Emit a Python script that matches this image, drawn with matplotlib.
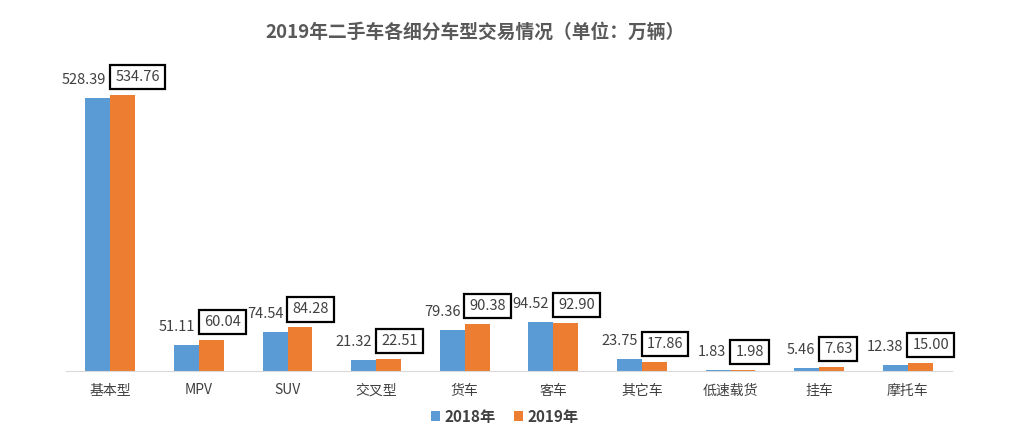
import numpy as np
import matplotlib.pyplot as plt

plt.rcParams['font.family'] = ['Noto Sans CJK SC', 'DejaVu Sans']

# data
categories = ['基本型', 'MPV', 'SUV', '交叉型', '货车', '客车', '其它车', '低速载货', '挂车', '摩托车']
sales_2018 = [528.39, 51.11, 74.54, 21.32, 79.36, 94.52, 23.75, 1.83, 5.46, 12.38]
sales_2019 = [534.76, 60.04, 84.28, 22.51, 90.38, 92.90, 17.86, 1.98, 7.63, 15.00]
series_names = ['2018年', '2019年']

blue = '#5B9BD5'
orange = '#ED7D31'
text_gray = '#404040'

fig = plt.figure(figsize=(10.1, 4.34), dpi=100)
ax = fig.add_axes([66 / 1010, 63 / 434, 886 / 1010, 310 / 434])

x = np.arange(len(categories))
w = 0.28
ax.bar(x - w / 2, sales_2018, w, color=blue, label=series_names[0])
ax.bar(x + w / 2, sales_2019, w, color=orange, label=series_names[1])

ax.set_xlim(-0.5, len(categories) - 0.5)
ax.set_ylim(0, 600)
ax.set_yticks([])
for s in ['top', 'right', 'left']:
    ax.spines[s].set_visible(False)
ax.spines['bottom'].set_color('#D9D9D9')
ax.set_xticks(x)
ax.set_xticklabels(categories, fontsize=10, color=text_gray)
ax.tick_params(axis='x', length=0, pad=9)

# value labels
for xi, v in zip(x, sales_2018):
    ax.annotate(f'{v:.2f}', (xi, v), xytext=(-3, 13), textcoords='offset points',
                ha='right', va='center', fontsize=10.5, color=text_gray, zorder=5)
for xi, v in zip(x, sales_2019):
    ax.annotate(f'{v:.2f}', (xi, v), xytext=(3.5, 13), textcoords='offset points',
                ha='left', va='center', fontsize=10.5, color=text_gray, zorder=4,
                bbox=dict(boxstyle='square,pad=0.35', fc='white', ec='black', lw=1.6))

fig.text(0.47, 0.925, '2019年二手车各细分车型交易情况（单位：万辆）', ha='center', va='center',
         fontsize=13.5, fontweight='bold', color='#595959')

leg = fig.legend(loc='center', bbox_to_anchor=(0.5, 0.04), ncol=2, frameon=False,
                 handlelength=0.6, handleheight=0.6, handletextpad=0.3, columnspacing=1.2,
                 prop={'size': 11, 'weight': 'bold'})
for t in leg.get_texts():
    t.set_color(text_gray)

fig.savefig('out.png', dpi=100, facecolor='white')
